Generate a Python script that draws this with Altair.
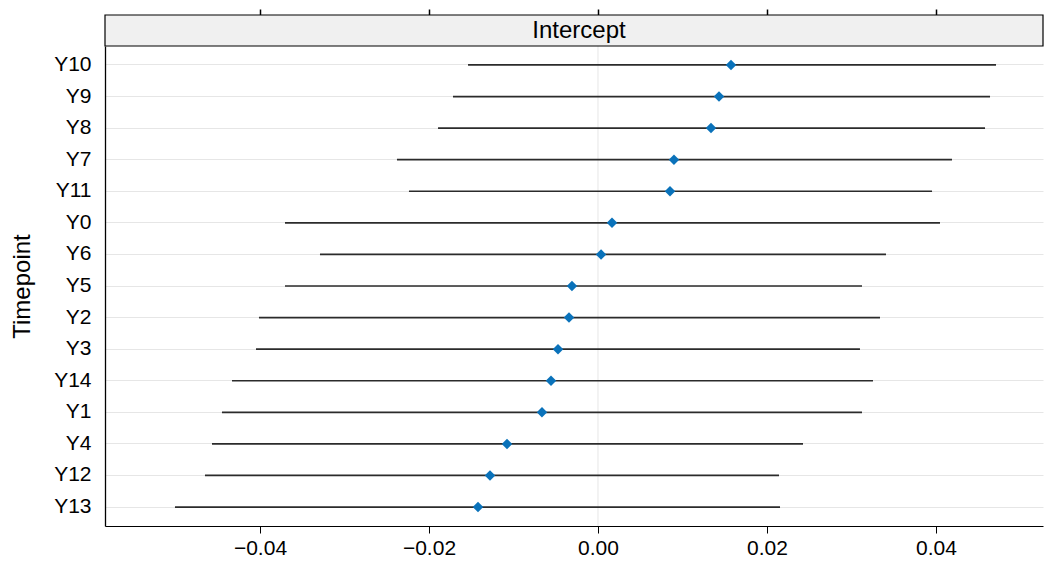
import altair as alt
import pandas as pd

timepoints = ["Y10", "Y9", "Y8", "Y7", "Y11", "Y0", "Y6", "Y5", "Y2", "Y3",
              "Y14", "Y1", "Y4", "Y12", "Y13"]
estimate = [0.01574, 0.01432, 0.01337, 0.00899, 0.00852, 0.00166, 0.00036,
            -0.00308, -0.00343, -0.00473, -0.00556, -0.00663, -0.01077,
            -0.01278, -0.01420]
lower = [-0.01538, -0.01716, -0.01893, -0.02379, -0.02237, -0.03704, -0.03290,
         -0.03704, -0.04012, -0.04047, -0.04331, -0.04450, -0.04568,
         -0.04651, -0.05006]
upper = [0.04710, 0.04639, 0.04580, 0.04189, 0.03953, 0.04047, 0.03408,
         0.03124, 0.03337, 0.03100, 0.03254, 0.03124, 0.02426, 0.02142,
         0.02154]
tick_values = [-0.04, -0.02, 0.00, 0.02, 0.04]
strip_label = "Intercept"

df = pd.DataFrame({"Timepoint": timepoints, "est": estimate,
                   "lo": lower, "hi": upper})
zero_df = pd.DataFrame({"z": [0.0]})
one_df = pd.DataFrame({"a": [1]})

W, H = 938, 480
FONT = "Liberation Sans"
xscale = alt.Scale(domain=[-0.05834, 0.05266], nice=False, zero=False)
yscale = alt.Scale(paddingInner=0, paddingOuter=0.1)

zero_rule = alt.Chart(zero_df).mark_rule(color="#e6e6e6", strokeWidth=1).encode(
    x=alt.X("z:Q", scale=xscale,
            axis=alt.Axis(values=tick_values, format=".2f", title=None,
                          grid=False, domainColor="black", tickColor="black",
                          tickSize=7, labelFontSize=21, labelColor="black",
                          labelFont=FONT, labelPadding=4))
)

segs = alt.Chart(df).mark_rule(color="#2b2b2b", strokeWidth=1.7).encode(
    x=alt.X("lo:Q", scale=xscale,
            axis=alt.Axis(orient="top", offset=31, values=tick_values,
                          labels=False, domain=False, grid=False,
                          tickColor="black", tickSize=6, tickWidth=1.5,
                          title=None)),
    x2="hi:Q",
    y=alt.Y("Timepoint:N", sort=timepoints, scale=yscale,
            axis=alt.Axis(title="Timepoint", titleFontSize=24,
                          titleFontWeight="normal", titleFont=FONT,
                          titleColor="black", titlePadding=19,
                          labelFontSize=21, labelFont=FONT, labelColor="black",
                          labelPadding=14, ticks=False, domainColor="black",
                          domainWidth=1.3, grid=True, gridColor="#e6e6e6")),
)

pts = alt.Chart(df).mark_point(shape="diamond", filled=True, size=110,
                               color="#0a72ba", opacity=1).encode(
    x=alt.X("est:Q", scale=xscale, axis=None),
    y=alt.Y("Timepoint:N", sort=timepoints, scale=yscale),
)

strip = alt.Chart(one_df).mark_rect(fill="#f0f0f0", stroke="black",
                                    strokeWidth=1.2).encode(
    x=alt.value(0), x2=alt.value(W), y=alt.value(-31), y2=alt.value(0)
)
strip_text = alt.Chart(one_df).mark_text(fontSize=24, font=FONT, color="black",
                                         baseline="middle", align="center").encode(
    x=alt.value(474), y=alt.value(-15), text=alt.value(strip_label)
)

chart = alt.layer(zero_rule, segs, pts, strip, strip_text).resolve_axis(
    x="independent"
).properties(
    width=W, height=H,
    padding={"left": 2, "top": 0, "right": 0, "bottom": 0},
).configure_view(stroke=None)

chart.save("out.html", embed_options={"renderer": "svg", "actions": False})
